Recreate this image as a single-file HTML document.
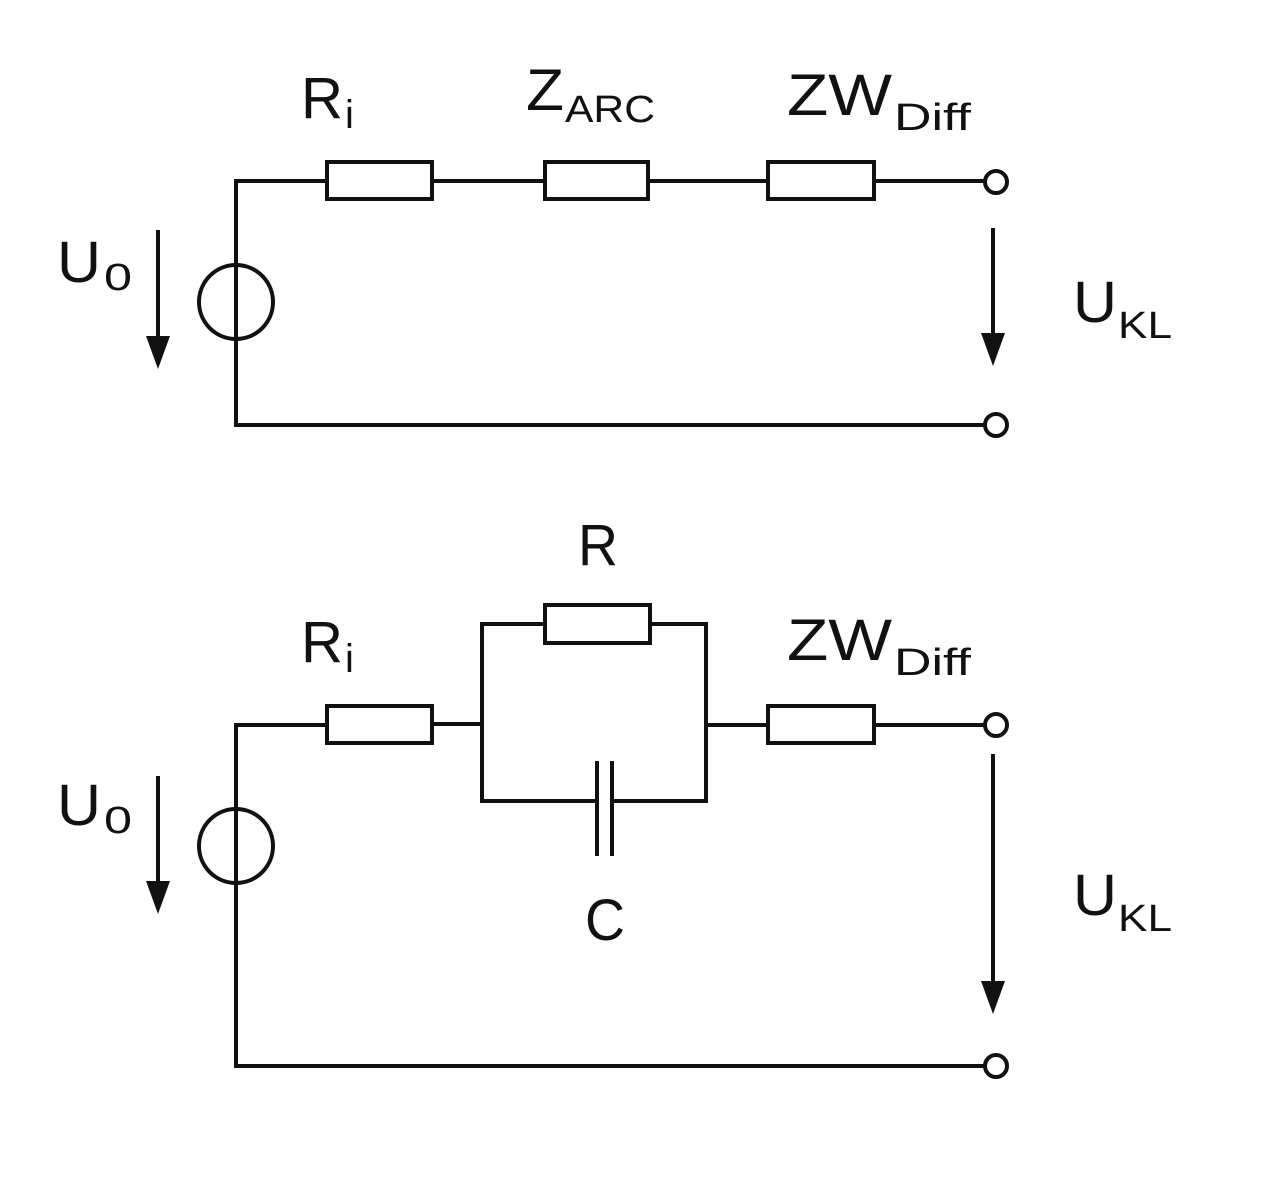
<!DOCTYPE html>
<html><head><meta charset="utf-8"><style>html,body{margin:0;padding:0;background:#fff}svg{display:block}</style></head>
<body>
<svg width="1280" height="1190" viewBox="0 0 1280 1190" xmlns="http://www.w3.org/2000/svg">
<g stroke="#111" stroke-width="4" fill="none" stroke-linecap="square">
<polyline points="327,181 236,181 236,425 985,425"/>
<line x1="432" y1="181" x2="545" y2="181"/>
<line x1="648" y1="181" x2="768" y2="181"/>
<line x1="874" y1="181" x2="984" y2="181"/>
<rect x="327" y="162" width="105" height="37" fill="#fff"/>
<rect x="545" y="162" width="103" height="37" fill="#fff"/>
<rect x="768" y="162" width="106" height="37" fill="#fff"/>
<circle cx="236" cy="302" r="37"/>
<circle cx="996" cy="182" r="11" fill="#fff"/>
<circle cx="996" cy="425" r="11" fill="#fff"/>
<polyline points="327,725 236,725 236,1066 985,1066"/>
<line x1="432" y1="724" x2="482" y2="724"/>
<polyline points="545,624 482,624 482,801 597,801"/>
<polyline points="650,624 706,624 706,801 612,801"/>
<line x1="706" y1="725" x2="768" y2="725"/>
<line x1="874" y1="725" x2="984" y2="725"/>
<rect x="327" y="706" width="105" height="37" fill="#fff"/>
<rect x="545" y="605" width="105" height="38" fill="#fff"/>
<rect x="768" y="706" width="106" height="37" fill="#fff"/>
<line x1="597" y1="763" x2="597" y2="854"/>
<line x1="612" y1="763" x2="612" y2="854"/>
<circle cx="236" cy="846" r="37"/>
<circle cx="996" cy="725" r="11" fill="#fff"/>
<circle cx="996" cy="1066" r="11" fill="#fff"/>
<line x1="158" y1="232" x2="158" y2="345"/>
<line x1="993" y1="230" x2="993" y2="342"/>
<line x1="158" y1="778" x2="158" y2="890"/>
<line x1="993" y1="756" x2="993" y2="990"/>
</g>
<g fill="#111">
<polygon points="146,336 170,336 158,369"/>
<polygon points="981,333 1005,333 993,366"/>
<polygon points="146,881 170,881 158,914"/>
<polygon points="981,981 1005,981 993,1014"/>
</g>
<g font-family="Liberation Sans, sans-serif" fill="#111">
<text x="301" y="118" font-size="58" textLength="42" lengthAdjust="spacingAndGlyphs">R</text>
<text x="345" y="128" font-size="40">i</text>
<text x="526" y="110" font-size="58" textLength="38" lengthAdjust="spacingAndGlyphs">Z</text>
<text x="565" y="122" font-size="38" textLength="90" lengthAdjust="spacingAndGlyphs">ARC</text>
<text x="787" y="115" font-size="58" textLength="105" lengthAdjust="spacingAndGlyphs">ZW</text>
<text x="894" y="130" font-size="38" textLength="77" lengthAdjust="spacingAndGlyphs">Diff</text>
<text x="57" y="282" font-size="58" textLength="44" lengthAdjust="spacingAndGlyphs">U</text>
<text x="104" y="290" font-size="38" textLength="28" lengthAdjust="spacingAndGlyphs">0</text>
<text x="1073" y="322" font-size="58" textLength="44" lengthAdjust="spacingAndGlyphs">U</text>
<text x="1118" y="338" font-size="38" textLength="54" lengthAdjust="spacingAndGlyphs">KL</text>

<text x="301" y="662" font-size="58" textLength="42" lengthAdjust="spacingAndGlyphs">R</text>
<text x="345" y="672" font-size="40">i</text>
<text x="578" y="565" font-size="58" textLength="40" lengthAdjust="spacingAndGlyphs">R</text>
<text x="585" y="940" font-size="58" textLength="40" lengthAdjust="spacingAndGlyphs">C</text>
<text x="787" y="660" font-size="58" textLength="105" lengthAdjust="spacingAndGlyphs">ZW</text>
<text x="894" y="675" font-size="38" textLength="77" lengthAdjust="spacingAndGlyphs">Diff</text>
<text x="57" y="825" font-size="58" textLength="44" lengthAdjust="spacingAndGlyphs">U</text>
<text x="104" y="833" font-size="38" textLength="28" lengthAdjust="spacingAndGlyphs">0</text>
<text x="1073" y="915" font-size="58" textLength="44" lengthAdjust="spacingAndGlyphs">U</text>
<text x="1118" y="931" font-size="38" textLength="54" lengthAdjust="spacingAndGlyphs">KL</text>
</g>
</svg>
</body></html>
